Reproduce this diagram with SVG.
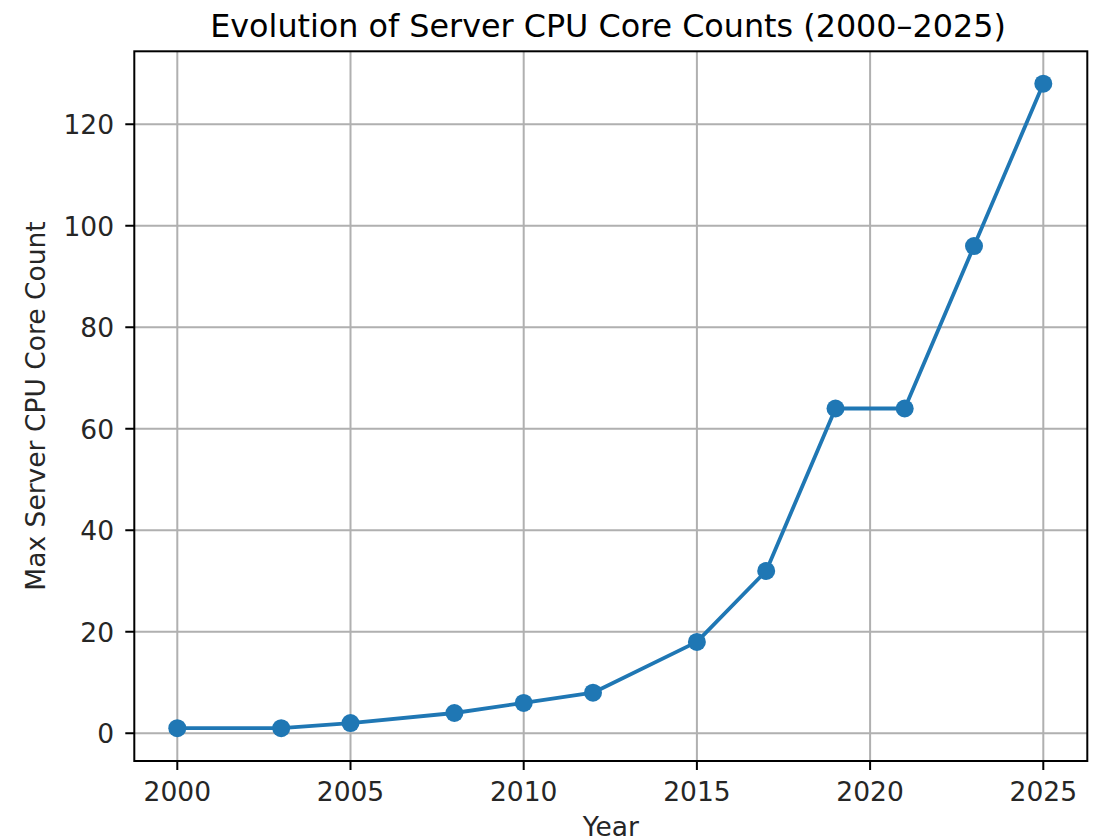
<svg xmlns="http://www.w3.org/2000/svg" width="1094" height="839" viewBox="0 0 1094 839">
<style>
.grid{stroke:#b0b0b0;stroke-width:2;fill:none}
.axis{stroke:#000;stroke-width:2;fill:none}
.tick{stroke:#000;stroke-width:2}
.lbl{font-family:"DejaVu Sans",sans-serif;font-size:26.5px;fill:#262626}
.title{font-family:"DejaVu Sans",sans-serif;font-size:31.8px;fill:#000}
.series{stroke:#1f77b4;stroke-width:3.8;fill:none;stroke-linejoin:round;stroke-linecap:square}
.pt{fill:#1f77b4}
</style>
<rect width="1094" height="839" fill="#fff"/>
<g id="grid">
<path class="grid" d="M177.3 51.3V761M350.5 51.3V761M523.7 51.3V761M696.9 51.3V761M870.1 51.3V761M1043.3 51.3V761"/>
<path class="grid" d="M134.3 733.3H1087.3M134.3 631.8H1087.3M134.3 530.3H1087.3M134.3 428.8H1087.3M134.3 327.3H1087.3M134.3 225.8H1087.3M134.3 124.3H1087.3"/>
</g>
<g id="connectors">
<polyline class="series" points="177.3,728.2 281.2,728.2 350.5,723.1 454.4,713.0 523.7,702.9 593.0,692.7 696.9,641.9 766.2,570.9 835.5,408.5 904.7,408.5 974.0,246.1 1043.3,83.7"/>
</g>
<g id="points">
<circle class="pt" cx="177.3" cy="728.2" r="9"/>
<circle class="pt" cx="281.2" cy="728.2" r="9"/>
<circle class="pt" cx="350.5" cy="723.1" r="9"/>
<circle class="pt" cx="454.4" cy="713.0" r="9"/>
<circle class="pt" cx="523.7" cy="702.9" r="9"/>
<circle class="pt" cx="593.0" cy="692.7" r="9"/>
<circle class="pt" cx="696.9" cy="641.9" r="9"/>
<circle class="pt" cx="766.2" cy="570.9" r="9"/>
<circle class="pt" cx="835.5" cy="408.5" r="9"/>
<circle class="pt" cx="904.7" cy="408.5" r="9"/>
<circle class="pt" cx="974.0" cy="246.1" r="9"/>
<circle class="pt" cx="1043.3" cy="83.7" r="9"/>
</g>
<g id="axes">
<rect class="axis" x="134.3" y="51.3" width="953" height="709.7"/>
<path class="tick" d="M177.3 761v9M350.5 761v9M523.7 761v9M696.9 761v9M870.1 761v9M1043.3 761v9"/>
<path class="tick" d="M134.3 733.3h-9M134.3 631.8h-9M134.3 530.3h-9M134.3 428.8h-9M134.3 327.3h-9M134.3 225.8h-9M134.3 124.3h-9"/>
</g>
<g id="xticklabels" class="lbl" text-anchor="middle">
<text x="177.3" y="800.5">2000</text>
<text x="350.5" y="800.5">2005</text>
<text x="523.7" y="800.5">2010</text>
<text x="696.9" y="800.5">2015</text>
<text x="870.1" y="800.5">2020</text>
<text x="1043.3" y="800.5">2025</text>
</g>
<g id="yticklabels" class="lbl" text-anchor="end">
<text x="114" y="743">0</text>
<text x="114" y="641.5">20</text>
<text x="114" y="540">40</text>
<text x="114" y="438.5">60</text>
<text x="114" y="337">80</text>
<text x="114" y="235.5">100</text>
<text x="114" y="134">120</text>
</g>
<g id="labels">
<text class="lbl" x="610.8" y="836" text-anchor="middle">Year</text>
<text class="lbl" transform="translate(45,406) rotate(-90)" text-anchor="middle">Max Server CPU Core Count</text>
<text class="title" x="608" y="37" text-anchor="middle">Evolution of Server CPU Core Counts (2000–2025)</text>
</g>
</svg>
